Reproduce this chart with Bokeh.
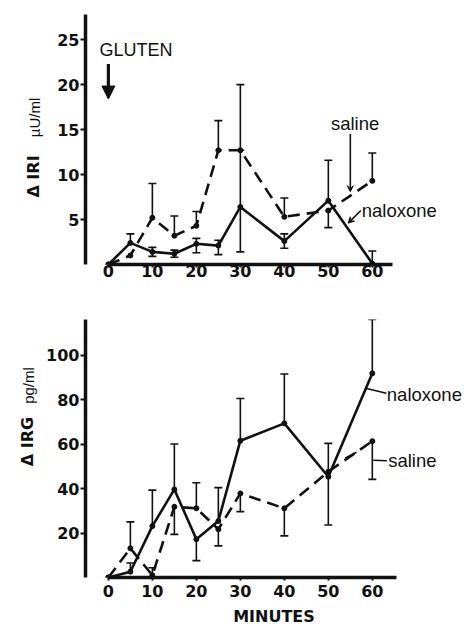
import numpy as np
from bokeh.plotting import figure
from bokeh.models import (ColumnDataSource, Whisker, TeeHead, Arrow, NormalHead,
                          VeeHead, Label, FixedTicker, Range1d, LinearAxis)
from bokeh.layouts import column, row
from bokeh.core.properties import value
from bokeh.embed import file_html
from bokeh.resources import INLINE

# ---------------- data ----------------
minutes = [0, 5, 10, 15, 20, 25, 30, 40, 50, 60]
x_ticks = [0, 10, 20, 30, 40, 50, 60]
iri_ticks = [5, 10, 15, 20, 25]
irg_ticks = [20, 40, 60, 80, 100]

# Delta IRI (uU/ml)
iri_naloxone = [0, 2.4, 1.4, 1.2, 2.3, 2.1, 6.4, 2.6, 7.1, 0.1]
iri_naloxone_up = [0, 1.0, 0.5, 0.4, 0.6, 0.6, 6.3, 0.8, 4.5, 1.4]
iri_naloxone_dn = [0, 0, 0.5, 0.4, 1.0, 1.0, 5.0, 0.8, 0, 0]
iri_saline = [0, 1.0, 5.2, 3.2, 4.3, 12.7, 12.7, 5.3, 6.0, 9.3]
iri_saline_up = [0, 0, 3.8, 2.2, 1.6, 3.3, 7.3, 2.1, 0, 3.1]
iri_saline_dn = [0, 0, 0, 0, 0, 0, 0, 0, 1.9, 0]

# Delta IRG (pg/ml)
irg_naloxone = [0, 2.6, 23.1, 39.6, 17.2, 25.4, 61.5, 69.3, 45.3, 91.8]
irg_naloxone_up = [0, 3.9, 16.2, 20.4, 0, 15.0, 19.0, 22.2, 15.0, 24.2]
irg_naloxone_dn = [0, 0, 0, 0, 9.6, 0, 0, 0, 0, 0]
irg_saline = [0, 13.1, 1.0, 31.8, 31.1, 21.7, 37.8, 31.1, 47.6, 61.3]
irg_saline_up = [0, 11.9, 3.4, 0, 11.5, 0, 0, 0, 0, 0]
irg_saline_dn = [0, 0, 0, 12.4, 0, 7.5, 8.2, 12.4, 24.0, 17.2]

INK = "#111111"
TICK_FONT = "DejaVu Sans"
TEXT_FONT = "Liberation Sans"
LABEL_W = 43
MAIN_W = 464 - LABEL_W


def make_fig(height, ymax, yticks, x_bound, border_top, border_bottom, x_standoff):
    p = figure(width=MAIN_W, height=height, output_backend="svg", toolbar_location=None,
               x_range=Range1d(-5.2, 80.5), y_range=Range1d(0, ymax),
               min_border_left=40, min_border_right=2,
               min_border_top=border_top, min_border_bottom=border_bottom)
    p.outline_line_color = None
    p.xgrid.grid_line_color = None
    p.ygrid.grid_line_color = None
    p.background_fill_color = "white"
    p.border_fill_color = "white"

    xa = p.xaxis[0]
    xa.ticker = FixedTicker(ticks=x_ticks)
    xa.bounds = x_bound
    xa.axis_line_width = 3.5
    xa.axis_line_color = INK
    xa.major_tick_line_width = 2
    xa.major_tick_line_color = INK
    xa.major_tick_in = 0
    xa.major_tick_out = 3
    xa.minor_tick_line_color = None
    xa.major_label_text_font = TICK_FONT
    xa.major_label_text_font_style = "bold"
    xa.major_label_text_font_size = "16px"
    xa.major_label_text_color = INK
    xa.major_label_standoff = x_standoff

    ya = p.yaxis[0]
    ya.ticker = FixedTicker(ticks=yticks)
    ya.axis_line_width = 3.5
    ya.axis_line_color = INK
    ya.major_tick_line_width = 2
    ya.major_tick_line_color = INK
    ya.major_tick_in = 0
    ya.major_tick_out = 5
    ya.minor_tick_line_color = None
    ya.major_label_text_font = TICK_FONT
    ya.major_label_text_font_style = "bold"
    ya.major_label_text_font_size = "16px"
    ya.major_label_text_color = INK
    ya.major_label_standoff = 1
    return p


def add_errors(p, xs, ys, up, dn):
    ux = [x for x, e in zip(xs, up) if e > 0]
    uy = [y for y, e in zip(ys, up) if e > 0]
    uh = [y + e for y, e in zip(ys, up) if e > 0]
    if ux:
        src = ColumnDataSource(dict(x=ux, lo=uy, hi=uh))
        p.add_layout(Whisker(base="x", lower="lo", upper="hi", source=src,
                             line_width=1.6, line_color=INK, lower_head=None,
                             upper_head=TeeHead(size=8, line_width=1.6, line_color=INK)))
    dx = [x for x, e in zip(xs, dn) if e > 0]
    dy = [y for y, e in zip(ys, dn) if e > 0]
    dl = [y - e for y, e in zip(ys, dn) if e > 0]
    if dx:
        src = ColumnDataSource(dict(x=dx, lo=dl, hi=dy))
        p.add_layout(Whisker(base="x", lower="lo", upper="hi", source=src,
                             line_width=1.6, line_color=INK, upper_head=None,
                             lower_head=TeeHead(size=8, line_width=1.6, line_color=INK)))


def add_series(p, xs, ys, dashed):
    kw = dict(line_width=2.6, line_color=INK)
    if dashed:
        kw["line_dash"] = "12 7"
    p.line(xs, ys, **kw)
    p.scatter(xs, ys, size=5, color=INK)


def text(p, x, y, s, size="18.5px", bold=False, font=TEXT_FONT, align="left"):
    p.add_layout(Label(x=x, y=y, text=s, text_font=font, text_font_size=size,
                       text_font_style="bold" if bold else "normal", text_color=INK,
                       text_align=align, text_baseline="middle"))


def leader(p, x0, y0, x1, y1, head=False):
    p.add_layout(Arrow(x_start=x0, y_start=y0, x_end=x1, y_end=y1, line_width=1.6,
                       line_color=INK,
                       end=VeeHead(size=6, line_color=INK, fill_color=INK, line_width=1) if head else None))


# ---------------- top: IRI ----------------
top = make_fig(298, 27.8, iri_ticks, (0, 64.5), 14, 34, -3)
add_errors(top, minutes, iri_saline, iri_saline_up, iri_saline_dn)
add_errors(top, minutes, iri_naloxone, iri_naloxone_up, iri_naloxone_dn)
add_series(top, minutes, iri_saline, True)
add_series(top, minutes, iri_naloxone, False)

text(top, -2.0, 23.85, "GLUTEN", size="18px")
top.add_layout(Arrow(x_start=0, y_start=22.3, x_end=0, y_end=18.4, line_width=3.2,
                     line_color=INK,
                     end=NormalHead(size=13, line_color=INK, fill_color=INK, line_width=1)))
text(top, 50.6, 15.7, "saline")
leader(top, 55.0, 14.5, 55.0, 8.1, head=True)
text(top, 57.6, 5.95, "naloxone")
leader(top, 57.4, 6.0, 54.5, 4.6, head=True)

# ---------------- bottom: IRG ----------------
bot = make_fig(330, 116, irg_ticks, (0, 65.4), 21, 50, 4)
add_errors(bot, minutes, irg_saline, irg_saline_up, irg_saline_dn)
add_errors(bot, minutes, irg_naloxone, irg_naloxone_up, irg_naloxone_dn)
add_series(bot, minutes, irg_saline, True)
add_series(bot, minutes, irg_naloxone, False)

text(bot, 63.3, 82.3, "naloxone")
leader(bot, 58.7, 85.0, 63.2, 82.8)
text(bot, 63.6, 52.6, "saline")
leader(bot, 53.8, 53.6, 56.4, 56.3)
leader(bot, 60.2, 52.7, 63.3, 52.5)

# x axis title, centred on the 0-60 span
title_axis = LinearAxis(ticker=FixedTicker(ticks=[]), bounds=(0, 60),
                        axis_line_color=None, major_tick_out=0, major_tick_in=0,
                        minor_tick_line_color=None, major_label_standoff=0,
                        axis_label="MINUTES", axis_label_standoff=7,
                        axis_label_text_font=TICK_FONT, axis_label_text_font_style="bold",
                        axis_label_text_font_size="16px", axis_label_text_color=INK)
bot.add_layout(title_axis, "below")

# ---------------- rotated y-axis titles ----------------
lab = figure(width=LABEL_W, height=628, output_backend="svg", toolbar_location=None,
             x_range=Range1d(0, LABEL_W), y_range=Range1d(0, 628),
             x_axis_type=None, y_axis_type=None, min_border=0)
lab.outline_line_color = None
lab.xgrid.grid_line_color = None
lab.ygrid.grid_line_color = None
lab.border_fill_color = "white"
lab.text(x=[33, 27], y=[628 - 176, 628 - 441], text=["\u0394 IRI", "\u0394 IRG"],
         angle=np.pi / 2, text_font=value(TICK_FONT), text_font_style="bold",
         text_font_size="16px", text_color=INK, text_align="center",
         text_baseline="middle")
lab.text(x=[33.5, 28], y=[628 - 117, 628 - 385], text=["\u00b5U/ml", "pg/ml"],
         angle=np.pi / 2, text_font=value(TEXT_FONT), text_font_style="normal",
         text_font_size="15px", text_color=INK, text_align="center",
         text_baseline="middle")

layout = row(lab, column(top, bot, spacing=0), spacing=0)
open("out.html", "w").write(file_html(layout, INLINE))
